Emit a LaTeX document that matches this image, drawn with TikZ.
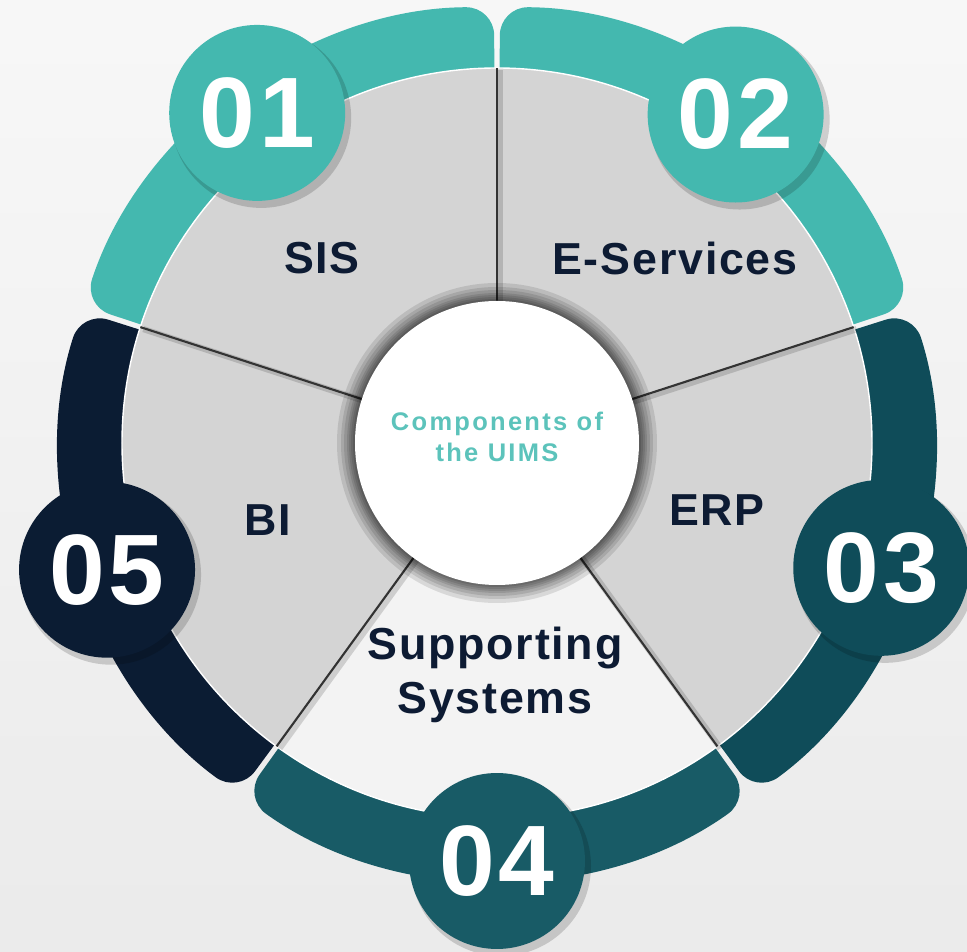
\documentclass[tikz,border=0pt]{standalone}
\usepackage{fontspec}
\setmainfont{Liberation Sans}
\newfontfamily\numfont[LetterSpace=4]{Liberation Sans}
\newfontfamily\labfont[LetterSpace=4]{Liberation Sans}
\newfontfamily\hubfont[LetterSpace=9]{Liberation Sans}
\usepackage{tikz}
\usetikzlibrary{calc}
\definecolor{tealA}{HTML}{44B8AF}
\definecolor{tealC}{HTML}{0F4C59}
\definecolor{tealD}{HTML}{185B66}
\definecolor{navy}{HTML}{0B1C33}
\definecolor{sector}{HTML}{D4D4D4}
\definecolor{sectorlt}{HTML}{F3F3F3}
\definecolor{labtext}{HTML}{0D1B33}
\definecolor{hubtext}{HTML}{5CC3BB}
\tikzset{
  band/.style={rounded corners=16pt},
  divider/.style={draw=black!80, line width=1.2pt},
  dividershade/.style={draw=black, opacity=0.15, line width=3.5pt},
  glow/.style={fill=black, opacity=0.11},
  lab/.style={text=labtext, align=center, font=\labfont\bfseries\fontsize{25.5}{31}\selectfont},
  hub/.style={text=hubtext, align=center, font=\hubfont\bfseries\fontsize{14.5}{17.6}\selectfont},
  num/.style={circle, minimum size=3.52cm, inner sep=0pt, text=white, font=\numfont\bfseries\fontsize{57}{60}\selectfont},
  numshade/.style={fill=black, opacity=0.16},
}

\begin{document}
\begin{tikzpicture}[x=0.02cm, y=0.02cm]
  \useasboundingbox (-497,-509) rectangle (470,443);
  \shade[top color=black!3, bottom color=black!8] (-497,-509) rectangle (470,443);

  % outer ring, one piece per sector
  \fill[tealA, band] (90.4:300) -- (90.4:436) arc[start angle=90.4, end angle=161.6, radius=436] -- (161.6:300) -- cycle;
  \fill[tealA, band] (18.4:300) -- (18.4:436) arc[start angle=18.4, end angle=89.6, radius=436] -- (89.6:300) -- cycle;
  \fill[tealC, band] (-53.6:300) -- (-53.6:436) arc[start angle=-53.6, end angle=17.6, radius=436] -- (17.6:300) -- cycle;
  \fill[tealD, band] (-125.6:300) -- (-125.6:436) arc[start angle=-125.6, end angle=-54.4, radius=436] -- (-54.4:300) -- cycle;
  \fill[navy, band] (162.4:300) -- (162.4:436) arc[start angle=162.4, end angle=233.6, radius=436] -- (233.6:300) -- cycle;

  % pie
  \coordinate (O) at (0,0);
  \fill[sector] (O) circle (375);
  \fill[sectorlt] (O) -- (-126:375) arc[start angle=-126, end angle=-54, radius=375] -- cycle;
  \draw[white, line width=0.8pt] (O) circle (375);
  \coordinate (d1) at (90:375);
  \coordinate (d2) at (18:375);
  \coordinate (d3) at (-54:375);
  \coordinate (d4) at (-126:375);
  \coordinate (d5) at (162:375);
  \draw[dividershade] ($(O)+(3,-2)$) -- ($(d1)+(3,-2)$);
  \draw[dividershade] ($(O)+(3,-2)$) -- ($(d2)+(3,-2)$);
  \draw[dividershade] ($(O)+(3,-2)$) -- ($(d3)+(3,-2)$);
  \draw[dividershade] ($(O)+(3,-2)$) -- ($(d4)+(3,-2)$);
  \draw[dividershade] ($(O)+(3,-2)$) -- ($(d5)+(3,-2)$);
  \draw[divider] (O) -- (d1);
  \draw[divider] (O) -- (d2);
  \draw[divider] (O) -- (d3);
  \draw[divider] (O) -- (d4);
  \draw[divider] (O) -- (d5);

  % hub
  \fill[glow] (O) circle (160);
  \fill[glow] (O) circle (156);
  \fill[glow] (O) circle (153);
  \fill[glow] (O) circle (150);
  \fill[glow] (O) circle (148);
  \fill[glow] (O) circle (146);
  \fill[glow] (O) circle (144);
  \fill[white] (O) circle (142);
  \node[hub] (hub) at (0,6) {Components of\\the UIMS};

  \node[lab] (sis) at (-175,185) {SIS};
  \node[lab] (eserv) at (178,185) {E-Services};
  \node[lab] (erp) at (220,-67) {ERP};
  \node[lab] (bi) at (-229,-77) {BI};
  \node[lab] (supp) at (-2,-232) {Supporting\\Systems};

  % numbered discs
  \coordinate (c01) at (126:408);
  \coordinate (c02) at (54:406);
  \coordinate (c03) at (-18:404);
  \coordinate (c04) at (-90:418);
  \coordinate (c05) at (198:410);
  \fill[numshade] ($(c01)+(4,-5)$) circle (90);
  \node[num, fill=tealA] (n01) at (c01) {01};
  \fill[numshade] ($(c02)+(4,-5)$) circle (90);
  \node[num, fill=tealA] (n02) at (c02) {02};
  \fill[numshade] ($(c03)+(4,-5)$) circle (90);
  \node[num, fill=tealC] (n03) at (c03) {03};
  \fill[numshade] ($(c04)+(4,-5)$) circle (90);
  \node[num, fill=tealD] (n04) at (c04) {04};
  \fill[numshade] ($(c05)+(4,-5)$) circle (90);
  \node[num, fill=navy] (n05) at (c05) {05};
\end{tikzpicture}
\end{document}
